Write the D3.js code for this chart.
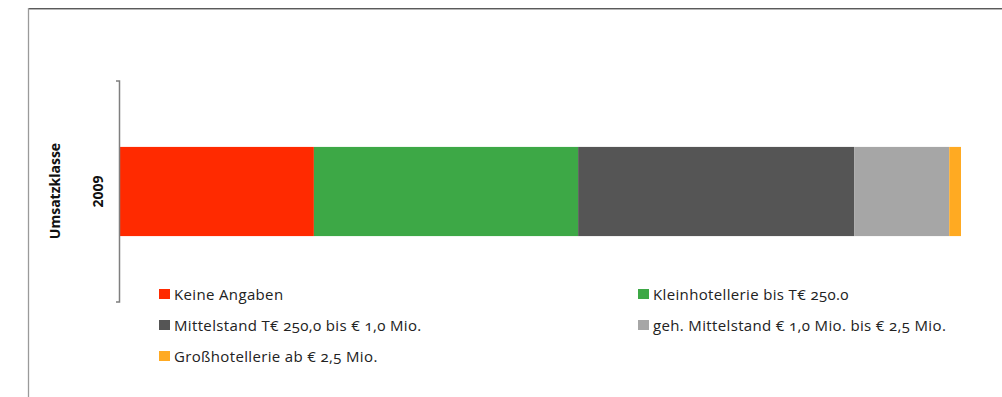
<!DOCTYPE html>
<html>
<head>
<meta charset="utf-8">
<script src="https://cdn.jsdelivr.net/npm/d3@7"></script>
<style>
  html, body { margin: 0; padding: 0; background: #fff; }
  svg { display: block; font-family: "Open Sans", sans-serif; }
  .leg text { font-size: 15px; letter-spacing: 0.35px; fill: #222; font-variant-numeric: oldstyle-nums; }
</style>
</head>
<body>
<svg id="chart" width="1002" height="397"></svg>
<script>
// Umsatzklassen 2009, share in percent (100 % stacked)
const categories = ["2009"];
const seriesNames = [
  "Keine Angaben",
  "Kleinhotellerie bis T€ 250.0",
  "Mittelstand T€ 250,0 bis € 1,0 Mio.",
  "geh. Mittelstand € 1,0 Mio. bis € 2,5 Mio.",
  "Großhotellerie ab € 2,5 Mio."
];
const values2009 = [23.1, 31.4, 32.8, 11.3, 1.4];
const colors = ["#ff2a00", "#3da846", "#555555", "#a6a6a6", "#ffaa22"];

const svg = d3.select("#chart");

// frame around the chart area
svg.append("line").attr("x1", 28).attr("x2", 1002).attr("y1", 8.5).attr("y2", 8.5)
  .attr("stroke", "#5a5a5a").attr("stroke-width", 1);
svg.append("line").attr("x1", 28).attr("x2", 1002).attr("y1", 9.5).attr("y2", 9.5)
  .attr("stroke", "#b5b5b5").attr("stroke-width", 1);
svg.append("line").attr("x1", 28.5).attr("x2", 28.5).attr("y1", 8).attr("y2", 397)
  .attr("stroke", "#9a9a9a").attr("stroke-width", 1.3);

const x = d3.scaleLinear().domain([0, 100]).range([119.5, 961]);
const y = d3.scaleBand().domain(categories).range([81, 302]).padding(0.425);

const rows = categories.map(c => {
  const row = { cat: c };
  seriesNames.forEach((s, i) => row[s] = values2009[i]);
  return row;
});
const stack = d3.stack().keys(seriesNames)(rows);

svg.append("g").selectAll("g").data(stack).join("g")
  .attr("fill", (d, i) => colors[i])
  .selectAll("rect").data(d => d).join("rect")
  .attr("x", d => x(d[0]))
  .attr("width", d => x(d[1]) - x(d[0]))
  .attr("y", d => y(d.data.cat))
  .attr("height", y.bandwidth());

// category axis: line with end ticks, labels drawn separately
svg.append("path")
  .attr("d", `M116,${y.range()[0]}H119.5V${y.range()[1]}H116`)
  .attr("fill", "none").attr("stroke", "#7f7f7f").attr("stroke-width", 1.5);

svg.selectAll(".cat").data(categories).join("text")
  .attr("class", "cat")
  .attr("transform", d => `translate(97,${y(d) + y.bandwidth() / 2}) rotate(-90)`)
  .attr("text-anchor", "middle").attr("dominant-baseline", "central")
  .attr("font-size", 14).attr("font-weight", "bold").attr("fill", "#111")
  .text(d => d);

svg.append("text")
  .attr("transform", "translate(54,191) rotate(-90)")
  .attr("text-anchor", "middle").attr("dominant-baseline", "central")
  .attr("font-size", 14).attr("font-weight", "bold").attr("fill", "#111")
  .text("Umsatzklasse");

// legend in two columns
const legPos = [[159, 294], [638, 294], [159, 325], [638, 325], [159, 356]];
const leg = svg.append("g").attr("class", "leg").selectAll("g").data(seriesNames).join("g")
  .attr("transform", (d, i) => `translate(${legPos[i][0]},${legPos[i][1]})`);
leg.append("rect").attr("x", 0).attr("y", -5).attr("width", 11).attr("height", 10)
  .attr("fill", (d, i) => colors[i]);
leg.append("text").attr("x", 15).attr("y", 0).attr("dominant-baseline", "central")
  .text(d => d);
</script>
</body>
</html>
